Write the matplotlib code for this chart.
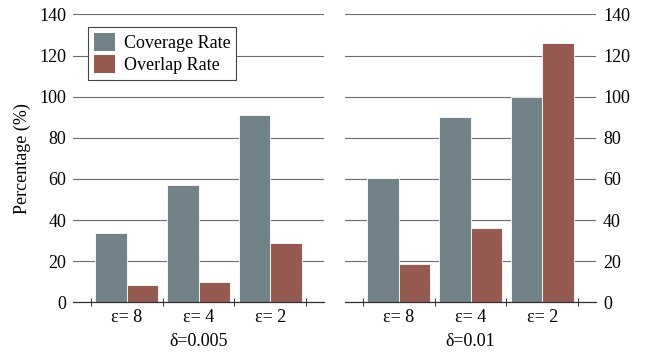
import numpy as np
import matplotlib.pyplot as plt
from matplotlib.patches import Patch

# data
groups = ['ε= 8', 'ε= 4', 'ε= 2']
panels = ['δ=0.005', 'δ=0.01']
coverage = [[33.5, 57.3, 90.9], [60.3, 90.2, 100.0]]
overlap = [[8.4, 10.0, 29.0], [18.6, 36.3, 126.2]]

cov_color = '#718388'
ovl_color = '#955a50'

plt.rcParams['font.family'] = ['Liberation Serif', 'DejaVu Serif']
plt.rcParams['font.size'] = 13

fig = plt.figure(figsize=(6.64, 3.6), dpi=100)
ax_l = fig.add_axes([0.110, 0.160, 0.378, 0.800])
ax_r = fig.add_axes([0.5196, 0.160, 0.378, 0.800])

x = np.arange(len(groups))
w = 0.44

for i, ax in enumerate([ax_l, ax_r]):
    ax.bar(x - w / 2, coverage[i], w, color=cov_color, edgecolor='white',
           linewidth=0.6, zorder=3)
    ax.bar(x + w / 2, overlap[i], w, color=ovl_color, edgecolor='white',
           linewidth=0.6, zorder=3)
    ax.set_xlim(-0.75, 2.75)
    ax.set_ylim(0, 140)
    ax.set_yticks(range(0, 141, 20))
    ax.yaxis.grid(True, color='#6a6a6a', linewidth=0.8, zorder=0)
    ax.set_axisbelow(True)
    for s in ['left', 'right', 'top']:
        ax.spines[s].set_visible(False)
    ax.spines['bottom'].set_color('#333333')
    ax.spines['bottom'].set_linewidth(0.9)
    ax.spines['bottom'].set_zorder(4)
    ax.set_xticks(x)
    ax.set_xticklabels(groups)
    ax.set_xticks([-0.5, 0.5, 1.5, 2.5], minor=True)
    ax.tick_params(axis='x', which='major', length=0, pad=5)
    ax.tick_params(axis='x', which='minor', direction='inout', length=6,
                   width=0.7, color='#333333')
    ax.tick_params(axis='y', length=0, pad=5)
    ax.set_xlabel(panels[i], labelpad=5)

ax_r.yaxis.tick_right()
ax_r.tick_params(axis='y', length=0, pad=5)
ax_l.set_ylabel('Percentage (%)', labelpad=6)

handles = [Patch(facecolor=cov_color, label='Coverage Rate'),
           Patch(facecolor=ovl_color, label='Overlap Rate')]
leg = ax_l.legend(handles=handles, loc='upper left',
                  bbox_to_anchor=(0.06, 0.955), frameon=True, fancybox=False,
                  edgecolor='#444444', framealpha=1, handlelength=1.2,
                  handleheight=1.2, handletextpad=0.5, borderpad=0.3,
                  labelspacing=0.15, borderaxespad=0)
leg.get_frame().set_linewidth(0.8)

plt.savefig('out.png', dpi=100)
plt.close(fig)
